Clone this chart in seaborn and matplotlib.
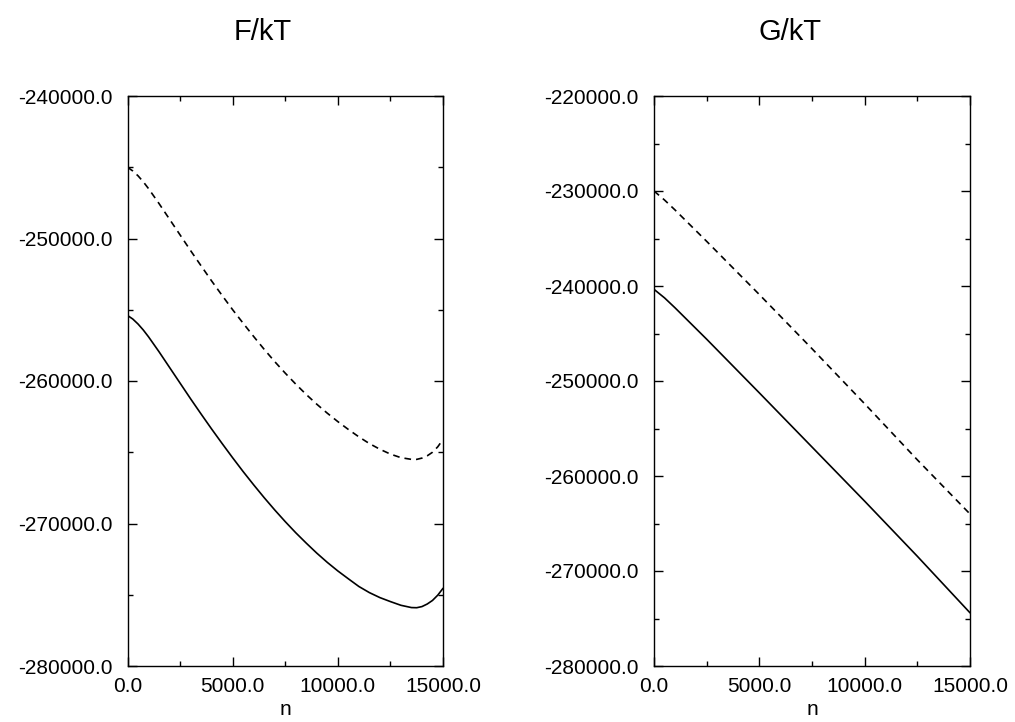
import matplotlib
matplotlib.use("Agg")
import matplotlib.pyplot as plt
from matplotlib.ticker import MultipleLocator, FormatStrFormatter
import seaborn as sns
import pandas as pd

# ---- data ----
n_F = [0, 250, 500, 750, 1000, 1500, 2000, 2500, 3000, 3500, 4000, 4500,
       5000, 5500, 6000, 6500, 7000, 7500, 8000, 8500, 9000, 9500, 10000,
       10500, 11000, 11500, 12000, 12500, 13000, 13500, 13750, 14000, 14250,
       14500, 14750, 15000]
F_solid = [-255400, -255650, -256000, -256420, -256900, -257950, -259050,
           -260150, -261250, -262320, -263370, -264390, -265390, -266360,
           -267290, -268190, -269050, -269870, -270650, -271380, -272080,
           -272730, -273330, -273880, -274420, -274850, -275200, -275480,
           -275740, -275900, -275910, -275830, -275650, -275400, -275030,
           -274550]
F_dashed = [-245000, -245260, -245600, -246020, -246500, -247550, -248650,
            -249750, -250850, -251920, -252980, -254000, -255000, -255950,
            -256880, -257780, -258640, -259450, -260220, -260950, -261630,
            -262260, -262850, -263400, -263920, -264390, -264790, -265130,
            -265380, -265500, -265500, -265410, -265250, -265000, -264620,
            -264100]

n_G = [0, 500, 1000, 2500, 5000, 7500, 10000, 12500, 15000]
G_solid = [-240350, -241250, -242300, -245600, -251250, -256950, -262650,
           -268450, -274400]
G_dashed = [-230000, -230950, -232000, -235300, -240900, -246600, -252400,
            -258300, -264000]

titles = ["F/kT", "G/kT"]
xlabel = "n"
ylims = [(-280000, -240000), (-280000, -220000)]
xlim = (0, 15000)

sns.set_style("ticks")
plt.rcParams["font.family"] = ["Liberation Sans", "DejaVu Sans"]
plt.rcParams["axes.unicode_minus"] = False
plt.rcParams["text.color"] = "black"
plt.rcParams["axes.labelcolor"] = "black"

fig = plt.figure(figsize=(10.15, 7.22), dpi=100)
W, H = 1015, 722
ax_boxes = [(127.5, 443.0), (654.0, 970.0)]
top_px, bot_px = 96.0, 666.0

panels = [
    (n_F, F_solid, F_dashed),
    (n_G, G_solid, G_dashed),
]

for i, ((x0, x1), (nx, ys, yd)) in enumerate(zip(ax_boxes, panels)):
    ax = fig.add_axes([x0 / W, (H - bot_px) / H, (x1 - x0) / W, (bot_px - top_px) / H])
    df_s = pd.DataFrame({"n": nx, "v": ys})
    df_d = pd.DataFrame({"n": nx, "v": yd})
    sns.lineplot(data=df_s, x="n", y="v", ax=ax, color="black", linewidth=1.2,
                 errorbar=None, sort=True)
    sns.lineplot(data=df_d, x="n", y="v", ax=ax, color="black", linewidth=1.2,
                 errorbar=None, sort=True, linestyle=(0, (4, 3)))
    ax.set_xlim(*xlim)
    ax.set_ylim(*ylims[i])
    ax.xaxis.set_major_locator(MultipleLocator(5000))
    ax.xaxis.set_minor_locator(MultipleLocator(2500))
    ax.yaxis.set_major_locator(MultipleLocator(10000))
    ax.yaxis.set_minor_locator(MultipleLocator(5000))
    ax.xaxis.set_major_formatter(FormatStrFormatter("%.1f"))
    ax.yaxis.set_major_formatter(FormatStrFormatter("%.1f"))
    ax.tick_params(which="both", direction="in", top=True, right=True,
                   colors="black", labelcolor="black", labelsize=15)
    ax.tick_params(which="major", length=6.5, width=1.0)
    ax.tick_params(which="minor", length=3.5, width=1.0)
    ax.tick_params(axis="y", which="major", pad=11)
    ax.tick_params(axis="x", which="major", pad=8)
    for sp in ax.spines.values():
        sp.set_visible(True)
        sp.set_color("black")
        sp.set_linewidth(1.0)
    ax.set_ylabel("")
    ax.set_xlabel(xlabel, fontsize=15, labelpad=3)
    cx = (x0 + x1) / 2
    fig.text(cx / W - 0.022, 1 - 32 / H, titles[i], ha="center", va="center",
             fontsize=21, color="black")

fig.savefig("out.png", dpi=100)
